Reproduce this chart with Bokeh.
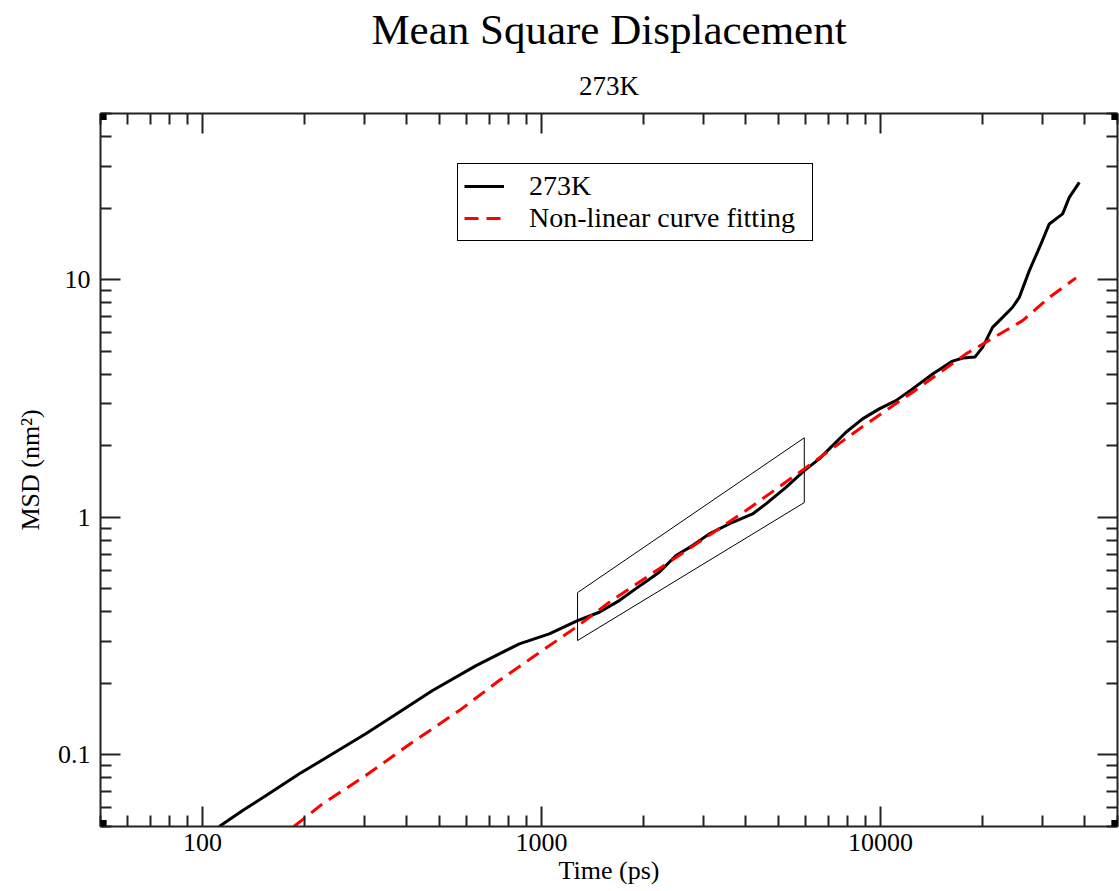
from bokeh.plotting import figure
from bokeh.models import (LogAxis, FixedTicker, CustomJSTickFormatter, Legend, LegendItem,
                          Title, Label, Range1d)
from bokeh.embed import file_html
from bokeh.resources import INLINE

# ---------------- data ----------------
title_text = "Mean Square Displacement"
subtitle_text = "273K"
x_label = "Time (ps)"
y_label = "MSD (nm\u00b2)"
series_name = "273K"
fit_name = "Non-linear curve fitting"

x_major = [100, 1000, 10000]
y_major = [0.1, 1, 10]
x_limits = [50, 50000]
y_limits = [0.05, 50]

msd_time = [112, 131, 154, 193, 242, 303, 380, 477, 641, 860,
            1054, 1277, 1480, 1695, 1986, 2224, 2492, 2789, 3124, 3660,
            4193, 4592, 5260, 5957, 6596, 7060, 7907, 8849, 9913, 11100,
            12430, 14240, 16310, 17500, 18980, 19990, 20460, 21400, 22910, 24520,
            25660, 27470, 29740, 31460, 34440, 36040, 38580]
msd_value = [0.050, 0.0583, 0.0675, 0.0833, 0.1011, 0.1227, 0.1512, 0.1866, 0.2377, 0.2934,
             0.3231, 0.3675, 0.3985, 0.4462, 0.5245, 0.5870, 0.6902, 0.7601, 0.8515, 0.9528,
             1.033, 1.139, 1.337, 1.572, 1.761, 1.940, 2.279, 2.594, 2.858, 3.097,
             3.47, 4.01, 4.54, 4.68, 4.72, 5.19, 5.54, 6.30, 6.94, 7.65,
             8.42, 10.91, 14.13, 17.15, 18.90, 22.19, 25.67]

fit_time = [186, 226, 303, 416, 572, 750, 941, 1264, 1584, 4009, 5957, 8653,
            12430, 17860, 26240, 31460, 37710]
fit_value = [0.050, 0.0623, 0.0819, 0.1131, 0.1537, 0.2056, 0.2576, 0.3445, 0.4389, 1.067,
             1.598, 2.354, 3.36, 4.87, 6.72, 8.42, 10.17]

# highlighted region (parallelogram)
box_time = [1277, 5957, 5957, 1277, 1277]
box_value = [0.482, 2.16, 1.153, 0.303, 0.482]

# ---------------- style ----------------
FONT = "Liberation Serif"
AXC = "#222222"

p = figure(width=1119, height=891, x_axis_type="log", y_axis_type="log",
           x_range=Range1d(*x_limits), y_range=Range1d(*y_limits),
           output_backend="svg", toolbar_location=None, title=None,
           min_border_left=100, min_border_right=2, min_border_top=113, min_border_bottom=65)
p.outline_line_color = None
p.xgrid.visible = False
p.ygrid.visible = False
p.background_fill_color = "white"
p.border_fill_color = "white"


def minors(majors_lo, majors_hi):
    out = []
    dec = majors_lo
    while dec < majors_hi:
        for k in range(2, 10):
            out.append(dec * k)
        dec *= 10
    return out


x_minor = minors(10, 100000)
y_minor = minors(0.01, 100)

label_fmt = CustomJSTickFormatter(code="return tick.toString();")
empty_fmt = CustomJSTickFormatter(code="return '';")


def style(ax, ticks, minor, show):
    ax.ticker = FixedTicker(ticks=ticks, minor_ticks=minor)
    ax.axis_line_color = AXC
    ax.axis_line_width = 2
    ax.major_tick_in = 20
    ax.major_tick_out = 0
    ax.minor_tick_in = 11
    ax.minor_tick_out = 0
    ax.major_tick_line_color = AXC
    ax.minor_tick_line_color = AXC
    ax.major_tick_line_width = 2
    ax.minor_tick_line_width = 2
    if show:
        ax.formatter = label_fmt
        ax.major_label_text_font = FONT
        ax.major_label_text_font_size = "26px"
        ax.major_label_text_color = "black"
        ax.axis_label_text_font = FONT
        ax.axis_label_text_font_size = "26px"
        ax.axis_label_text_font_style = "normal"
        ax.axis_label_text_color = "black"
    else:
        ax.formatter = empty_fmt
        ax.major_label_text_font_size = "0px"
        ax.major_label_standoff = 0
        ax.axis_label = None


xb = p.xaxis[0]
yl = p.yaxis[0]
style(xb, x_major, x_minor, True)
style(yl, y_major, y_minor, True)
xb.axis_label = x_label
yl.axis_label = y_label
xb.major_label_standoff = 7
xb.axis_label_standoff = 2
yl.major_label_standoff = 10
yl.axis_label_standoff = 10

xt = LogAxis()
style(xt, x_major, x_minor, False)
p.add_layout(xt, "above")
yr = LogAxis()
style(yr, y_major, y_minor, False)
p.add_layout(yr, "right")

p.add_layout(Title(text=subtitle_text, text_font=FONT, text_font_size="27px",
                   text_color="black", text_font_style="normal", align="center",
                   standoff=26), "above")
p.add_layout(Title(text=title_text, text_font=FONT, text_font_size="43px",
                   text_color="black", text_font_style="normal", align="center",
                   standoff=5), "above")

# ---------------- marks ----------------
p.line(box_time, box_value, line_color="black", line_width=1)
r_msd = p.line(msd_time, msd_value, line_color="black", line_width=3)
r_fit = p.line(fit_time, fit_value, line_color="#ff0000", line_width=3, line_dash="14 8")

legend = Legend(items=[LegendItem(label=series_name, renderers=[r_msd]),
                       LegendItem(label=fit_name, renderers=[r_fit])],
                location=(357, 585), orientation="vertical",
                border_line_color="black", border_line_width=1.5, border_line_alpha=1,
                background_fill_color="white", background_fill_alpha=1,
                label_text_font=FONT, label_text_font_size="28px", label_text_color="black",
                glyph_width=40, glyph_height=20, label_standoff=25, label_width=277,
                padding=6, spacing=0, margin=0)
p.add_layout(legend)

# corner focus markers (Grace style)
for cx in x_limits:
    for cy in y_limits:
        p.add_layout(Label(x=cx, y=cy, text=" ", text_font_size="1px",
                           text_align="center", text_baseline="middle",
                           background_fill_color="black", background_fill_alpha=1,
                           padding=6))

open("out.html", "w").write(file_html(p, INLINE))
